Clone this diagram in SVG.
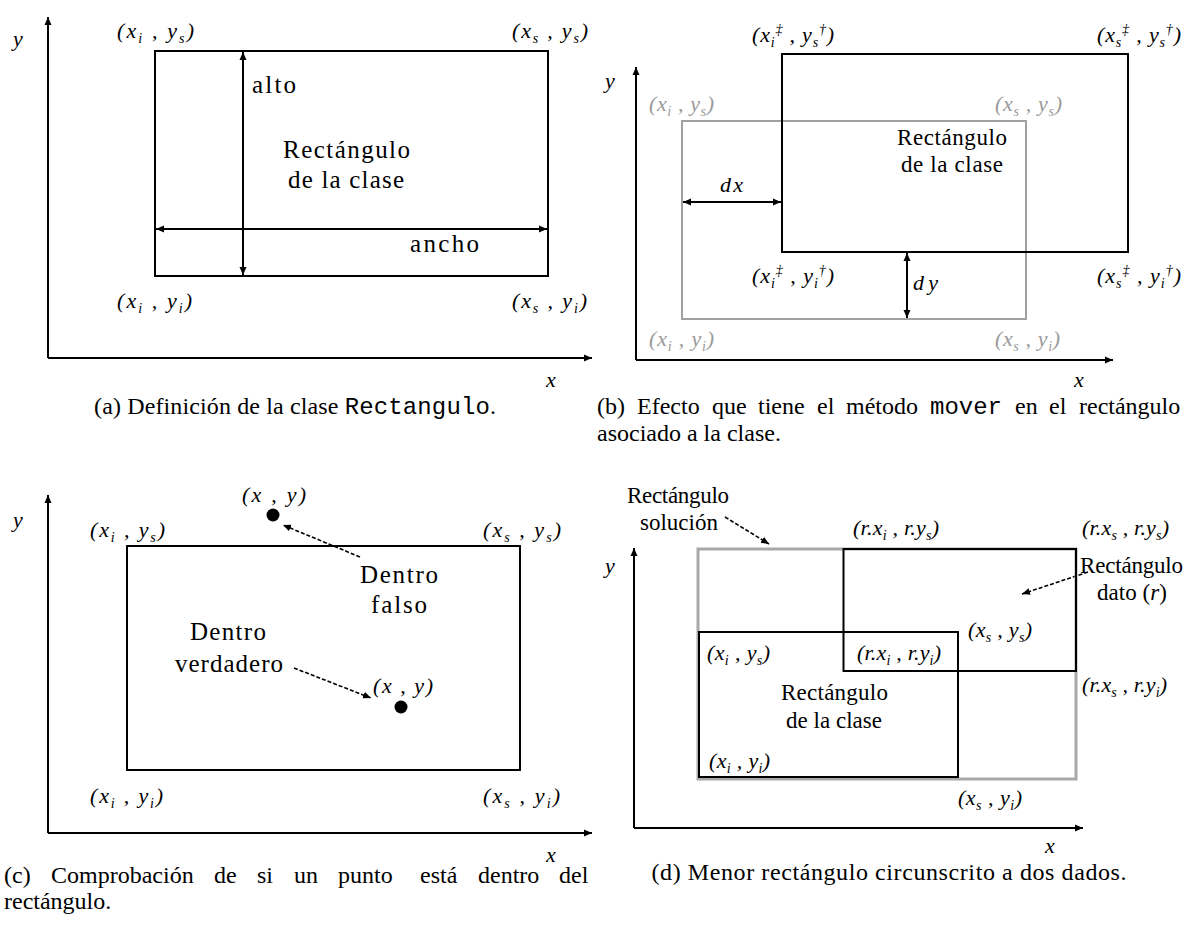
<svg xmlns="http://www.w3.org/2000/svg" width="1184" height="925" viewBox="0 0 1184 925">
<style>
.ln{stroke:#000;stroke-width:2;fill:none}
.gr{stroke:#a0a0a0;stroke-width:2;fill:none}
.gs{stroke:#a8a8a8;stroke-width:3;fill:none}
.t{font-size:25px;fill:#000}
.t2{font-size:23px;fill:#000}
.m{font-style:italic;font-size:22px;fill:#000}
.g{fill:#9a9a9a}
.s{font-size:14px}
.cap{font-size:24px;fill:#000}
.ax{stroke:#000;stroke-width:2;fill:none;marker-end:url(#ah)}
.dim{stroke:#000;stroke-width:2;fill:none;marker-start:url(#ah);marker-end:url(#ah)}
.ld{stroke:#000;stroke-width:1.6;fill:none;stroke-dasharray:4 2;marker-end:url(#ah)}
</style>
<defs>
<marker id="ah" viewBox="0 0 8 8" refX="8" refY="4" markerWidth="8" markerHeight="8" markerUnits="userSpaceOnUse" orient="auto-start-reverse">
<path d="M0,0.5 L8,4 L0,7.5 z" fill="#000"/>
</marker>
</defs>
<rect width="1184" height="925" fill="#fff"/>

<g id="connectors">
<line class="ax" x1="48" y1="358" x2="48" y2="17"/>
<line class="ax" x1="48" y1="358" x2="592" y2="358"/>
<line class="ax" x1="636" y1="360" x2="636" y2="67"/>
<line class="ax" x1="636" y1="360" x2="1113" y2="360"/>
<line class="ax" x1="48" y1="833" x2="48" y2="495"/>
<line class="ax" x1="48" y1="833" x2="592" y2="833"/>
<line class="ax" x1="634" y1="828" x2="634" y2="548"/>
<line class="ax" x1="634" y1="828" x2="1083" y2="828"/>
<line class="dim" x1="243" y1="52" x2="243" y2="275"/>
<line class="dim" x1="156" y1="229" x2="547" y2="229"/>
<line class="dim" x1="683" y1="202" x2="781" y2="202"/>
<line class="dim" x1="907" y1="253" x2="907" y2="318"/>
<line class="ld" x1="360" y1="557" x2="283" y2="525"/>
<line class="ld" x1="294" y1="668" x2="371" y2="698"/>
<line class="ld" x1="725" y1="517" x2="769" y2="544"/>
<line class="ld" x1="1088" y1="572" x2="1022" y2="594"/>
</g>

<g id="panel-a">
<g id="a-rect"><rect class="ln" x="155" y="51" width="393" height="225"/></g>
<g id="a-labels">
<text font-family="Liberation Serif" class="m" x="13" y="46">y</text>
<text font-family="Liberation Serif" class="m" x="546" y="387">x</text>
<text font-family="Liberation Serif" class="t" x="252" y="93" textLength="44">alto</text>
<text font-family="Liberation Serif" class="t" x="410" y="252" textLength="69">ancho</text>
<text font-family="Liberation Serif" class="t" x="283" y="158" textLength="127">Rectángulo</text>
<text font-family="Liberation Serif" class="t" x="288" y="188" textLength="116">de la clase</text>
<text font-family="Liberation Serif" class="m" x="117" y="38" textLength="77">(x<tspan class="s" dy="5">i</tspan><tspan dy="-5"> , y</tspan><tspan class="s" dy="5">s</tspan><tspan dy="-5">)</tspan></text>
<text font-family="Liberation Serif" class="m" x="512" y="38" textLength="76">(x<tspan class="s" dy="5">s</tspan><tspan dy="-5"> , y</tspan><tspan class="s" dy="5">s</tspan><tspan dy="-5">)</tspan></text>
<text font-family="Liberation Serif" class="m" x="117" y="308" textLength="75">(x<tspan class="s" dy="5">i</tspan><tspan dy="-5"> , y</tspan><tspan class="s" dy="5">i</tspan><tspan dy="-5">)</tspan></text>
<text font-family="Liberation Serif" class="m" x="512" y="308" textLength="75">(x<tspan class="s" dy="5">s</tspan><tspan dy="-5"> , y</tspan><tspan class="s" dy="5">i</tspan><tspan dy="-5">)</tspan></text>
</g>
<text font-family="Liberation Serif" class="cap" x="94" y="414" textLength="402">(a) Definición de la clase <tspan font-family="Liberation Mono">Rectangulo</tspan>.</text>
</g>

<g id="panel-b">
<g id="b-old-rect"><rect class="gr" x="682" y="121" width="344" height="198"/></g>
<g id="b-new-rect"><rect class="ln" x="782" y="54" width="346" height="198"/></g>
<g id="b-labels">
<text font-family="Liberation Serif" class="m" x="605" y="88">y</text>
<text font-family="Liberation Serif" class="m" x="1074" y="387">x</text>
<text font-family="Liberation Serif" class="m" x="720" y="192" textLength="23">dx</text>
<text font-family="Liberation Serif" class="m" x="913" y="290" textLength="25">dy</text>
<text font-family="Liberation Serif" class="t2" x="897" y="145" textLength="110">Rectángulo</text>
<text font-family="Liberation Serif" class="t2" x="901" y="172" textLength="102">de la clase</text>
<text font-family="Liberation Serif" class="m" x="752" y="42" textLength="82">(x<tspan class="s" dy="5">i</tspan><tspan class="s" dy="-13">‡</tspan><tspan dy="8"> , y</tspan><tspan class="s" dy="5">s</tspan><tspan class="s" dy="-13">†</tspan><tspan dy="8">)</tspan></text>
<text font-family="Liberation Serif" class="m" x="1097" y="42" textLength="84">(x<tspan class="s" dy="5">s</tspan><tspan class="s" dy="-13">‡</tspan><tspan dy="8"> , y</tspan><tspan class="s" dy="5">s</tspan><tspan class="s" dy="-13">†</tspan><tspan dy="8">)</tspan></text>
<text font-family="Liberation Serif" class="m" x="752" y="283" textLength="82">(x<tspan class="s" dy="5">i</tspan><tspan class="s" dy="-13">‡</tspan><tspan dy="8"> , y</tspan><tspan class="s" dy="5">i</tspan><tspan class="s" dy="-13">†</tspan><tspan dy="8">)</tspan></text>
<text font-family="Liberation Serif" class="m" x="1097" y="283" textLength="84">(x<tspan class="s" dy="5">s</tspan><tspan class="s" dy="-13">‡</tspan><tspan dy="8"> , y</tspan><tspan class="s" dy="5">i</tspan><tspan class="s" dy="-13">†</tspan><tspan dy="8">)</tspan></text>
<text font-family="Liberation Serif" class="m g" x="649" y="111" textLength="65">(x<tspan class="s" dy="5">i</tspan><tspan dy="-5"> , y</tspan><tspan class="s" dy="5">s</tspan><tspan dy="-5">)</tspan></text>
<text font-family="Liberation Serif" class="m g" x="995" y="111" textLength="67">(x<tspan class="s" dy="5">s</tspan><tspan dy="-5"> , y</tspan><tspan class="s" dy="5">s</tspan><tspan dy="-5">)</tspan></text>
<text font-family="Liberation Serif" class="m g" x="649" y="346" textLength="65">(x<tspan class="s" dy="5">i</tspan><tspan dy="-5"> , y</tspan><tspan class="s" dy="5">i</tspan><tspan dy="-5">)</tspan></text>
<text font-family="Liberation Serif" class="m g" x="995" y="346" textLength="65">(x<tspan class="s" dy="5">s</tspan><tspan dy="-5"> , y</tspan><tspan class="s" dy="5">i</tspan><tspan dy="-5">)</tspan></text>
</g>
<text font-family="Liberation Serif" class="cap" y="414"><tspan x="597">(b)</tspan><tspan x="637">Efecto</tspan><tspan x="712">que</tspan><tspan x="758">tiene</tspan><tspan x="817">el</tspan><tspan x="846">método</tspan><tspan x="930" font-family="Liberation Mono">mover</tspan><tspan x="1015">en</tspan><tspan x="1049">el</tspan><tspan x="1079">rectángulo</tspan></text>
<text font-family="Liberation Serif" class="cap" x="597" y="441">asociado a la clase.</text>
</g>

<g id="panel-c">
<g id="c-rect"><rect class="ln" x="127" y="546" width="393" height="224"/></g>
<g id="c-point-out"><circle cx="273" cy="515" r="6.5" fill="#000"/></g>
<g id="c-point-in"><circle cx="401" cy="707" r="6.5" fill="#000"/></g>
<g id="c-labels">
<text font-family="Liberation Serif" class="m" x="13" y="527">y</text>
<text font-family="Liberation Serif" class="m" x="546" y="862">x</text>
<text font-family="Liberation Serif" class="m" x="242" y="502" textLength="64">(x , y)</text>
<text font-family="Liberation Serif" class="m" x="373" y="693" textLength="60">(x , y)</text>
<text font-family="Liberation Serif" class="t" x="360" y="583" textLength="78">Dentro</text>
<text font-family="Liberation Serif" class="t" x="371" y="613" textLength="56">falso</text>
<text font-family="Liberation Serif" class="t" x="190" y="640" textLength="76">Dentro</text>
<text font-family="Liberation Serif" class="t" x="175" y="672" textLength="108">verdadero</text>
<text font-family="Liberation Serif" class="m" x="90" y="537" textLength="75">(x<tspan class="s" dy="5">i</tspan><tspan dy="-5"> , y</tspan><tspan class="s" dy="5">s</tspan><tspan dy="-5">)</tspan></text>
<text font-family="Liberation Serif" class="m" x="483" y="537" textLength="78">(x<tspan class="s" dy="5">s</tspan><tspan dy="-5"> , y</tspan><tspan class="s" dy="5">s</tspan><tspan dy="-5">)</tspan></text>
<text font-family="Liberation Serif" class="m" x="90" y="803" textLength="73">(x<tspan class="s" dy="5">i</tspan><tspan dy="-5"> , y</tspan><tspan class="s" dy="5">i</tspan><tspan dy="-5">)</tspan></text>
<text font-family="Liberation Serif" class="m" x="483" y="803" textLength="77">(x<tspan class="s" dy="5">s</tspan><tspan dy="-5"> , y</tspan><tspan class="s" dy="5">i</tspan><tspan dy="-5">)</tspan></text>
</g>
<text font-family="Liberation Serif" class="cap" y="883"><tspan x="4">(c)</tspan><tspan x="51">Comprobación</tspan><tspan x="214">de</tspan><tspan x="257">si</tspan><tspan x="294">un</tspan><tspan x="338">punto</tspan><tspan x="420">está</tspan><tspan x="478">dentro</tspan><tspan x="559">del</tspan></text>
<text font-family="Liberation Serif" class="cap" x="4" y="909">rectángulo.</text>
</g>

<g id="panel-d">
<g id="d-solution-rect"><rect class="gs" x="698" y="549" width="378" height="230"/></g>
<g id="d-class-rect"><rect class="ln" x="699" y="632" width="259" height="145"/></g>
<g id="d-data-rect"><rect class="ln" x="843.5" y="549" width="232.5" height="122"/></g>
<g id="d-labels">
<text font-family="Liberation Serif" class="m" x="605" y="573">y</text>
<text font-family="Liberation Serif" class="m" x="1045" y="853">x</text>
<text font-family="Liberation Serif" class="t2" x="627" y="503" textLength="102">Rectángulo</text>
<text font-family="Liberation Serif" class="t2" x="640" y="530" textLength="78">solución</text>
<text font-family="Liberation Serif" class="t2" x="1080" y="573" textLength="103">Rectángulo</text>
<text font-family="Liberation Serif" class="t2" x="1097" y="600" textLength="70">dato (<tspan font-style="italic">r</tspan>)</text>
<text font-family="Liberation Serif" class="t2" x="781" y="700" textLength="107">Rectángulo</text>
<text font-family="Liberation Serif" class="t2" x="786" y="728" textLength="96">de la clase</text>
<text font-family="Liberation Serif" class="m" x="853" y="535" textLength="86">(r.x<tspan class="s" dy="5">i</tspan><tspan dy="-5"> , r.y</tspan><tspan class="s" dy="5">s</tspan><tspan dy="-5">)</tspan></text>
<text font-family="Liberation Serif" class="m" x="1082" y="535" textLength="87">(r.x<tspan class="s" dy="5">s</tspan><tspan dy="-5"> , r.y</tspan><tspan class="s" dy="5">s</tspan><tspan dy="-5">)</tspan></text>
<text font-family="Liberation Serif" class="m" x="857" y="660" textLength="84">(r.x<tspan class="s" dy="5">i</tspan><tspan dy="-5"> , r.y</tspan><tspan class="s" dy="5">i</tspan><tspan dy="-5">)</tspan></text>
<text font-family="Liberation Serif" class="m" x="1082" y="692" textLength="85">(r.x<tspan class="s" dy="5">s</tspan><tspan dy="-5"> , r.y</tspan><tspan class="s" dy="5">i</tspan><tspan dy="-5">)</tspan></text>
<text font-family="Liberation Serif" class="m" x="968" y="637" textLength="64">(x<tspan class="s" dy="5">s</tspan><tspan dy="-5"> , y</tspan><tspan class="s" dy="5">s</tspan><tspan dy="-5">)</tspan></text>
<text font-family="Liberation Serif" class="m" x="707" y="660" textLength="63">(x<tspan class="s" dy="5">i</tspan><tspan dy="-5"> , y</tspan><tspan class="s" dy="5">s</tspan><tspan dy="-5">)</tspan></text>
<text font-family="Liberation Serif" class="m" x="709" y="768" textLength="61">(x<tspan class="s" dy="5">i</tspan><tspan dy="-5"> , y</tspan><tspan class="s" dy="5">i</tspan><tspan dy="-5">)</tspan></text>
<text font-family="Liberation Serif" class="m" x="958" y="805" textLength="64">(x<tspan class="s" dy="5">s</tspan><tspan dy="-5"> , y</tspan><tspan class="s" dy="5">i</tspan><tspan dy="-5">)</tspan></text>
</g>
<text font-family="Liberation Serif" class="cap" x="889" y="880" text-anchor="middle" textLength="475">(d) Menor rectángulo circunscrito a dos dados.</text>
</g>
</svg>
